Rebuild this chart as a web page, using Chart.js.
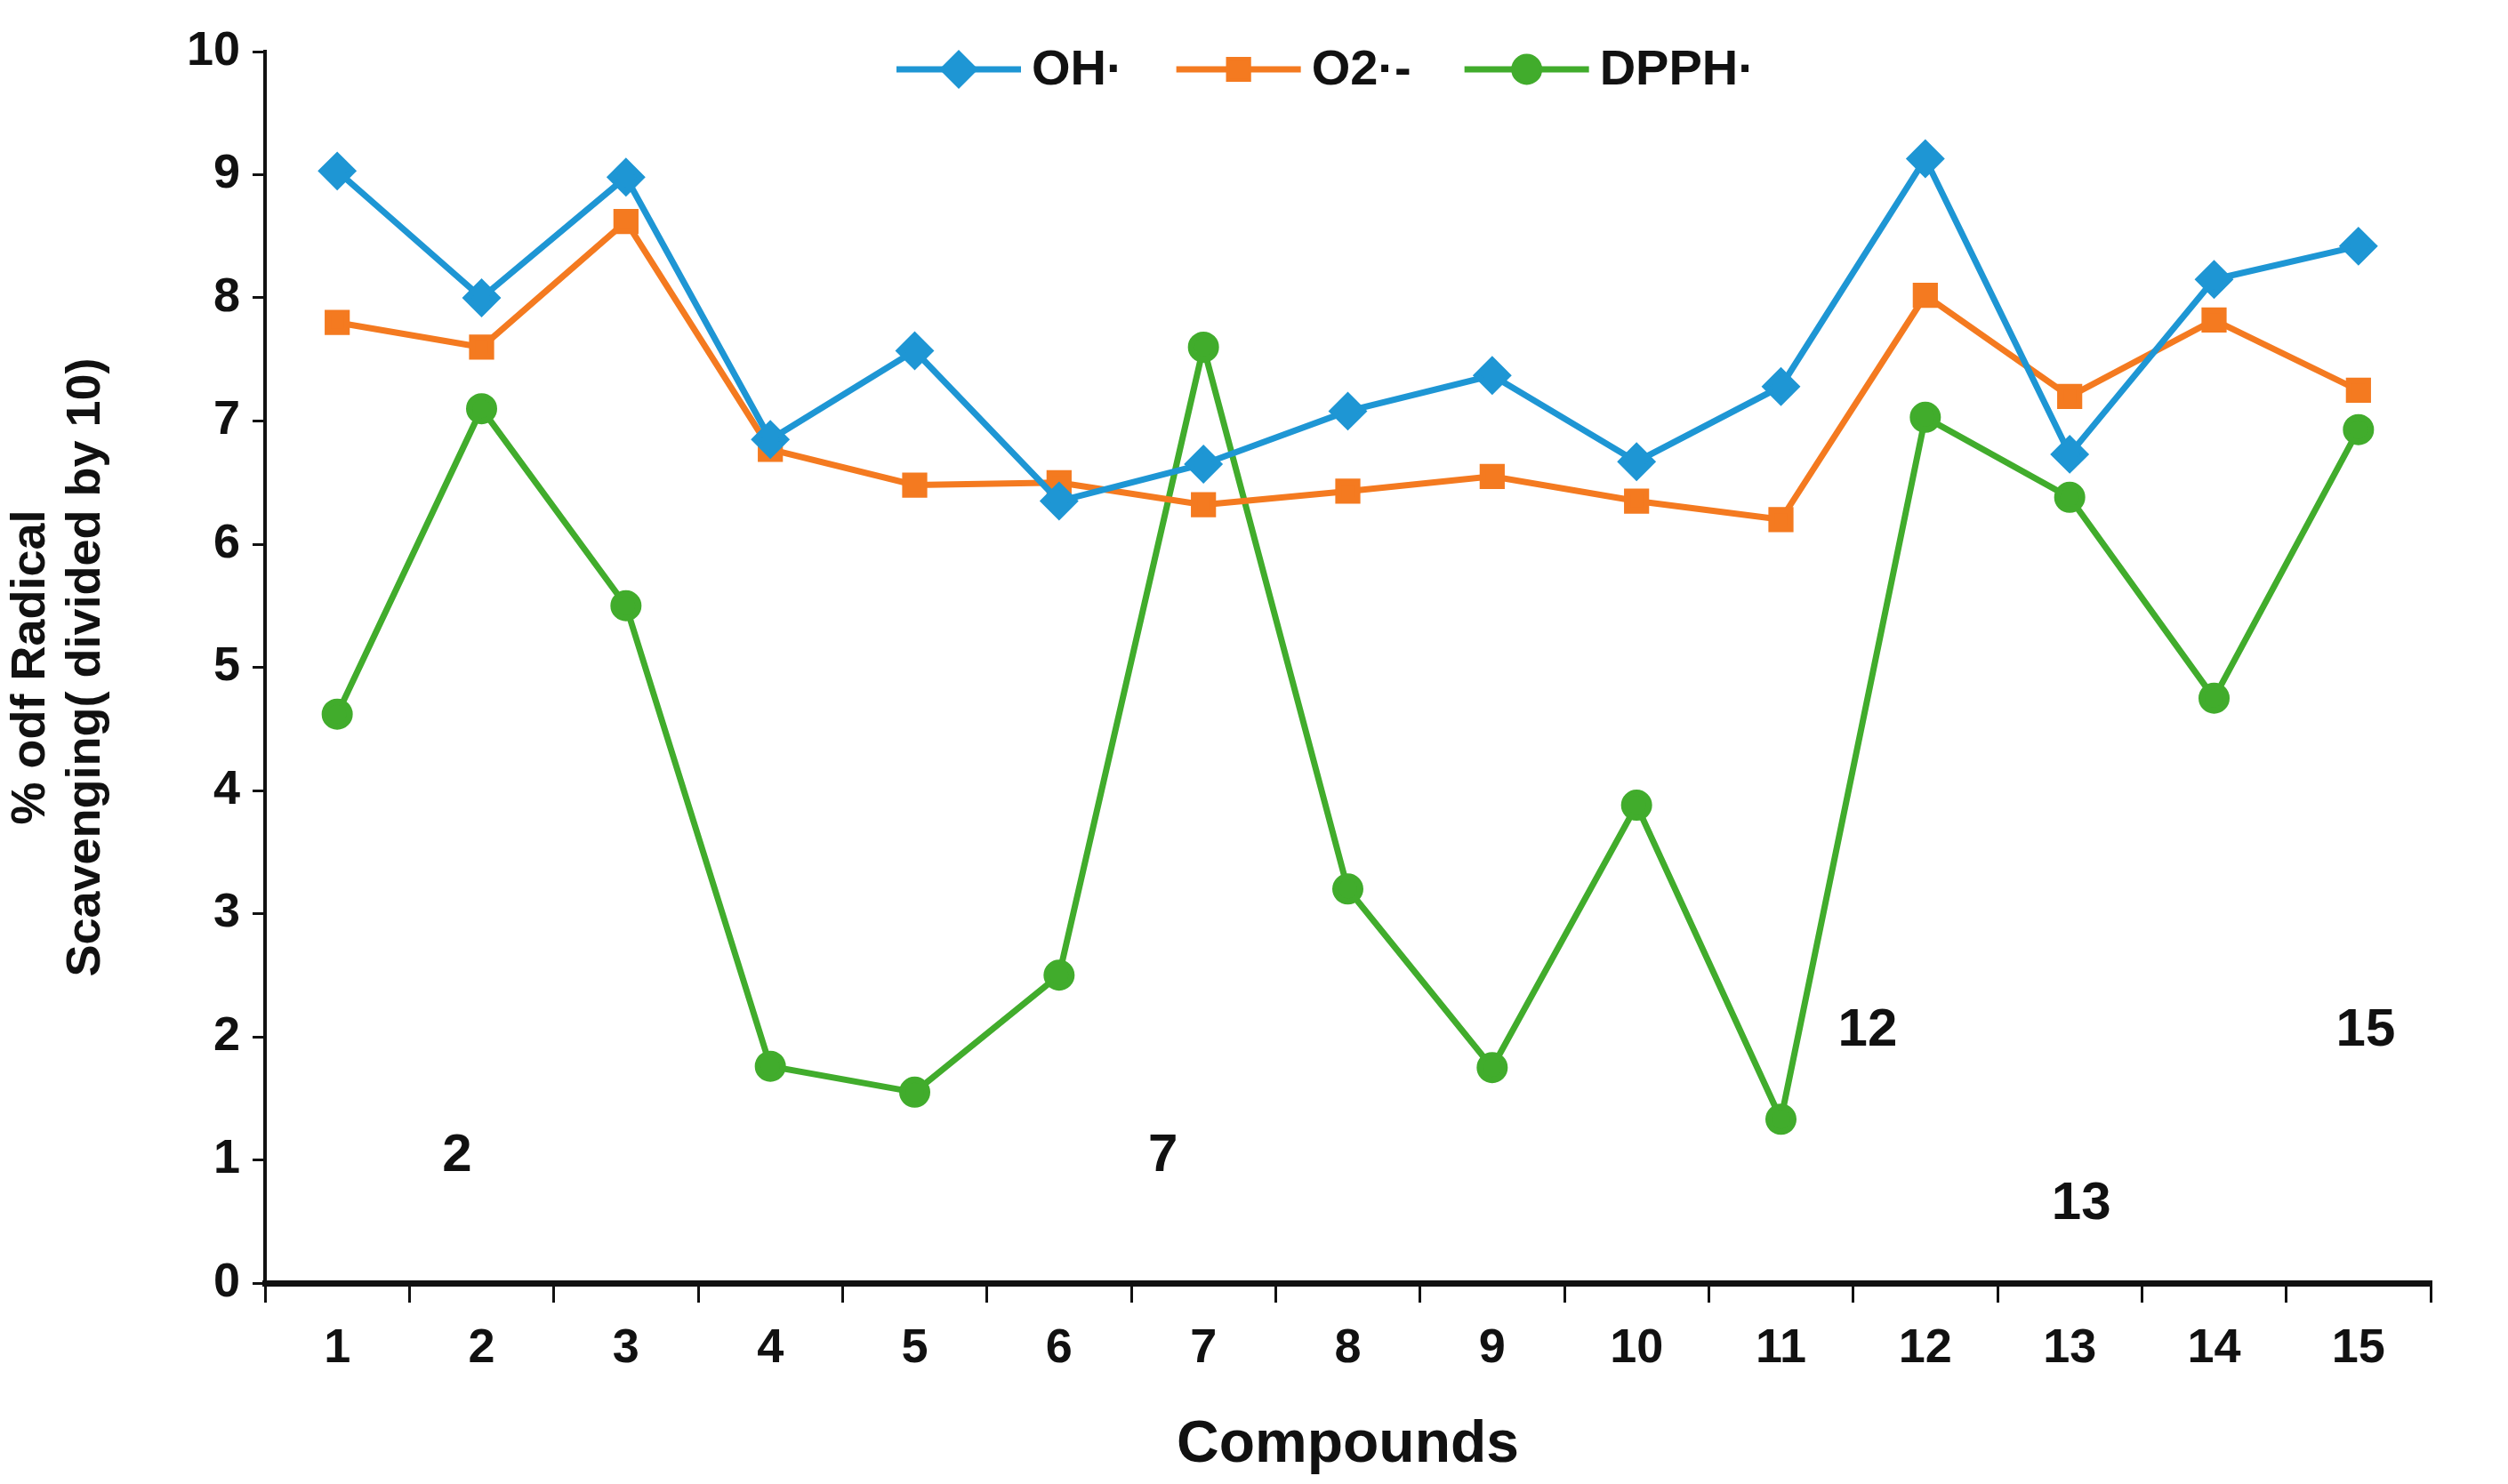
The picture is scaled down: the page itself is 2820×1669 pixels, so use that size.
<!DOCTYPE html>
<html><head><meta charset="utf-8">
<script src="https://cdn.jsdelivr.net/npm/chart.js@4/dist/chart.umd.min.js"></script>
<style>html,body{margin:0;padding:0;background:#fff}#w{width:2820px;height:1669px}</style>
</head><body><div id="w"><canvas id="c"></canvas></div>
<script>
const categories = ['1','2','3','4','5','6','7','8','9','10','11','12','13','14','15'];
const ohValues   = [9.03, 8.0, 8.98, 6.85, 7.57, 6.35, 6.65, 7.08, 7.37, 6.67, 7.28, 9.13, 6.73, 8.15, 8.42];
const o2Values   = [7.8, 7.6, 8.62, 6.77, 6.48, 6.5, 6.32, 6.43, 6.55, 6.35, 6.2, 8.02, 7.2, 7.82, 7.25];
const dpphValues = [4.62, 7.1, 5.5, 1.76, 1.55, 2.5, 7.6, 3.2, 1.75, 3.88, 1.33, 7.03, 6.38, 4.75, 6.93];
const seriesNames = ['OH·', 'O2·-', 'DPPH·'];
const compoundLabels = [['2', 0.83, 1.03], ['7', 5.72, 1.03], ['12', 10.6, 2.05], ['13', 12.08, 0.64], ['15', 14.05, 2.05]];

const FONT = '"Liberation Sans", Arial, sans-serif';
const colors = ['#1e96d4', '#f47a20', '#41ac2c'];
const styles = ['rectRot', 'rect', 'circle'];
const radii = [17, 15, 14];

function mk(i, data){
  return {label: seriesNames[i], data, borderColor: colors[i], backgroundColor: colors[i],
    borderWidth: 7, pointStyle: styles[i], pointRadius: radii[i], pointHoverRadius: radii[i], tension: 0};
}

const extras = {
  id: 'extras',
  afterDatasetsDraw(chart){
    const ctx = chart.ctx, x = chart.scales.x, y = chart.scales.y;
    const px = v => { const i = Math.floor(v); const a = x.getPixelForValue(i); const b = x.getPixelForValue(i+1); return a + (b-a)*(v-i); };
    ctx.save();
    ctx.fillStyle = '#111';
    ctx.font = 'bold 60px ' + FONT;
    ctx.textAlign = 'center'; ctx.textBaseline = 'middle';
    compoundLabels.forEach(([t, cx, cy]) => ctx.fillText(t, px(cx), y.getPixelForValue(cy)));
    // legend
    let lx = 1008; const ly = 78;
    ctx.font = 'bold 56px ' + FONT; ctx.textAlign = 'left';
    chart.data.datasets.forEach((ds, i) => {
      ctx.strokeStyle = colors[i]; ctx.lineWidth = 7;
      ctx.beginPath(); ctx.moveTo(lx, ly); ctx.lineTo(lx + 140, ly); ctx.stroke();
      Chart.helpers.drawPoint(ctx, {pointStyle: styles[i], radius: radii[i], borderWidth: 1}, lx + 70, ly);
      ctx.fillStyle = colors[i]; ctx.fill();
      ctx.fillStyle = '#111';
      ctx.fillText(seriesNames[i], lx + 152, ly + 2);
      lx += 152 + ctx.measureText(seriesNames[i]).width + 60;
    });
    ctx.restore();
  }
};

new Chart(document.getElementById('c'), {
  type: 'line',
  data: {labels: categories, datasets: [mk(0, ohValues), mk(1, o2Values), mk(2, dpphValues)]},
  options: {
    responsive: true, maintainAspectRatio: false, animation: false,
    layout: {padding: {top: 58, right: 87, left: 0, bottom: 0}},
    plugins: {legend: {display: false}, tooltip: {enabled: false}},
    scales: {
      x: {
        offset: true,
        grid: {display: true, drawOnChartArea: false, offset: true, color: '#111', lineWidth: 3, tickLength: 22},
        border: {color: '#111', width: 7},
        ticks: {color: '#111', font: {family: FONT, weight: 'bold', size: 54}, padding: 20, maxRotation: 0},
        title: {display: true, text: 'Compounds', color: '#111', font: {family: FONT, weight: 'bold', size: 66}, padding: {top: 16}},
        afterFit(s){ s.height = 226; }
      },
      y: {
        min: 0, max: 10,
        grid: {display: true, drawOnChartArea: false, color: '#111', lineWidth: 3, tickLength: 14},
        border: {color: '#111', width: 4},
        ticks: {stepSize: 1, color: '#111', font: {family: FONT, weight: 'bold', size: 54}, padding: 14},
        title: {display: true, text: ['% odf Radical', 'Scavenging( divided by 10)'], color: '#111', font: {family: FONT, weight: 'bold', size: 54, lineHeight: 1.15}, padding: {bottom: 14}},
        afterFit(s){ s.width = 298; }
      }
    }
  },
  plugins: [extras]
});
</script></body></html>
